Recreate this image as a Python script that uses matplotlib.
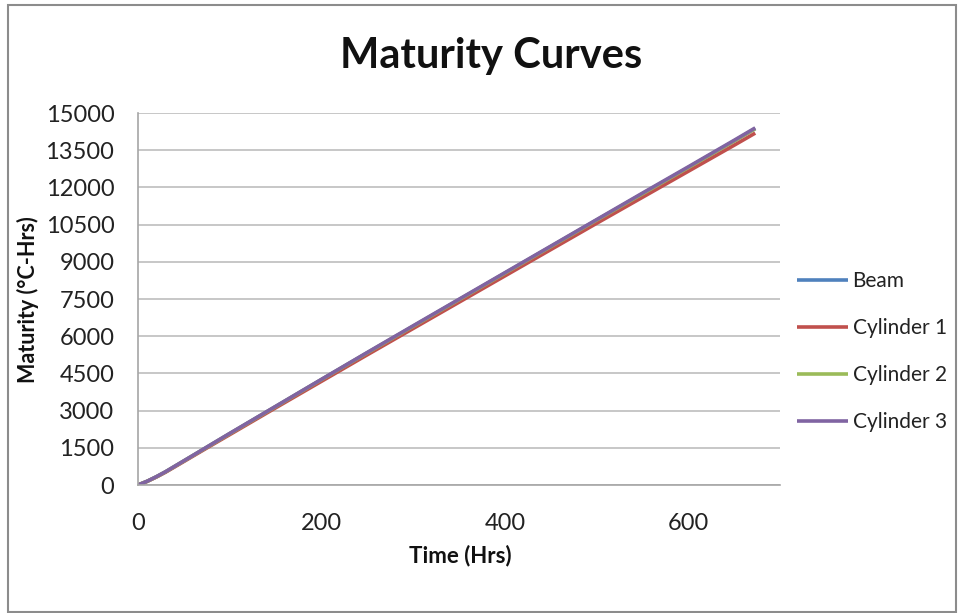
import matplotlib.pyplot as plt
from matplotlib.patches import Rectangle

# data
hours = [0, 10, 20, 30, 40, 60, 80, 100, 150, 200, 250, 300, 350, 400, 450, 500, 550, 600, 650, 673]
beam = [0, 150, 330, 530, 750, 1190, 1630, 2070, 3160, 4250, 5330, 6400, 7470, 8540, 9610, 10680, 11740, 12800, 13870, 14370]
cyl1 = [0, 145, 320, 515, 730, 1165, 1600, 2030, 3110, 4180, 5250, 6310, 7370, 8430, 9490, 10550, 11600, 12650, 13700, 14190]
cyl2 = [0, 150, 330, 530, 750, 1190, 1630, 2070, 3160, 4250, 5330, 6400, 7470, 8540, 9610, 10680, 11740, 12800, 13870, 14370]
cyl3 = [0, 152, 335, 535, 755, 1195, 1640, 2080, 3170, 4260, 5345, 6420, 7490, 8560, 9630, 10700, 11770, 12830, 13900, 14400]
names = ['Beam', 'Cylinder 1', 'Cylinder 2', 'Cylinder 3']
colors = ['#4F81BD', '#C0504D', '#9BBB59', '#8064A2']

x_ticks = [0, 200, 400, 600]
y_ticks = list(range(0, 15001, 1500))

plt.rcParams['font.family'] = ['Lato', 'DejaVu Sans']

W, H = 964, 613
fig = plt.figure(figsize=(W / 100, H / 100), dpi=100)
ax = fig.add_axes([138 / W, 1 - 485 / H, (780 - 138) / W, (485 - 113) / H])

for ys, name, c in zip([beam, cyl1, cyl2, cyl3], names, colors):
    ax.plot(hours, ys, color=c, lw=2.6, label=name, solid_capstyle='butt')

ax.set_xlim(0, 700)
ax.set_ylim(0, 15000)
ax.set_xticks(x_ticks)
ax.set_yticks(y_ticks)
ax.tick_params(axis='both', labelsize=17, colors='#222222', length=0)
ax.tick_params(axis='y', pad=17)
ax.tick_params(axis='x', pad=20)
ax.grid(axis='y', color='#BEBEBE', lw=1.2)
ax.set_axisbelow(True)
for s in ['top', 'right']:
    ax.spines[s].set_visible(False)
for s in ['left', 'bottom']:
    ax.spines[s].set_color('#A6A6A6')
    ax.spines[s].set_linewidth(1.2)

fig.text(491 / W, 1 - 56 / H, 'Maturity Curves', fontsize=30, fontweight='bold',
         ha='center', va='center', color='#111111')
fig.text(28 / W, 1 - 300 / H, 'Maturity (°C-Hrs)', fontsize=15.5, fontweight='bold',
         rotation=90, ha='center', va='center', color='#111111')
fig.text(460 / W, 1 - 556 / H, 'Time (Hrs)', fontsize=16, fontweight='bold',
         ha='center', va='center', color='#111111')

fig.legend(loc='upper left', bbox_to_anchor=(797 / W, 1 - 271 / H), frameon=False,
           fontsize=15, handlelength=2.45, handletextpad=0.22, labelspacing=1.3,
           borderpad=0, borderaxespad=0, labelcolor='#222222')

fig.patches.append(Rectangle((8 / W, 1 - 612 / H), (956 - 8) / W, (612 - 5) / H,
                             transform=fig.transFigure, fill=False,
                             edgecolor='#8C8C8C', lw=1.5))

fig.savefig('out.png', dpi=100)
